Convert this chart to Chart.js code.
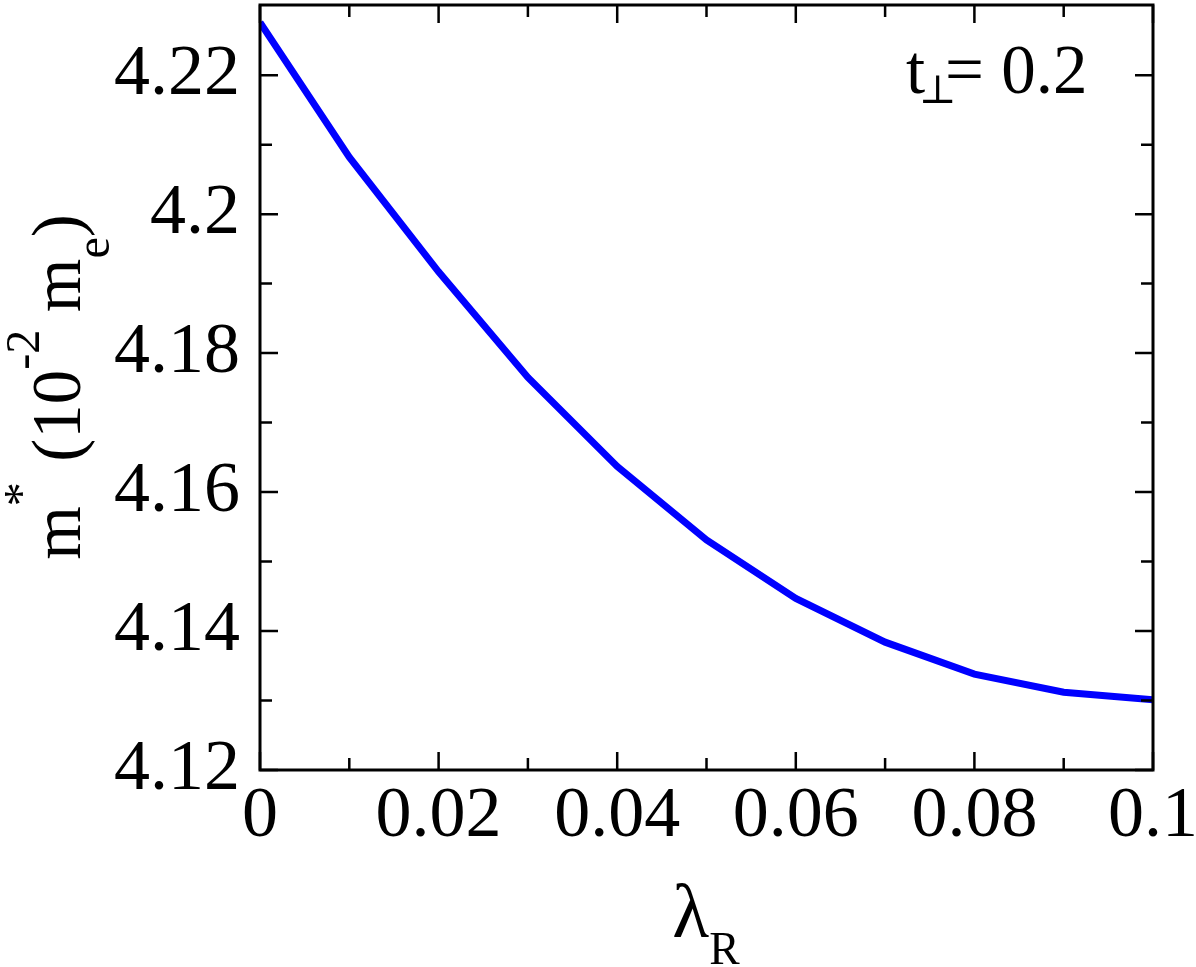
<!DOCTYPE html>
<html>
<head>
<meta charset="utf-8">
<script src="https://cdn.jsdelivr.net/npm/chart.js@4.4.1/dist/chart.umd.min.js"></script>
<style>
html,body{margin:0;padding:0;background:#fff;}
#wrap{width:1196px;height:967px;position:relative;}
</style>
</head>
<body>
<div id="wrap"><canvas id="c" width="1196" height="967"></canvas></div>
<script>
const lambdaR = [0, 0.01, 0.02, 0.03, 0.04, 0.05, 0.06, 0.07, 0.08, 0.09, 0.1];
const massEff = [4.2276, 4.2082, 4.1917, 4.1765, 4.1637, 4.1531, 4.1447, 4.1384, 4.1338, 4.1312, 4.1301];
const xTickValues = [0, 0.02, 0.04, 0.06, 0.08, 0.1];
const xTickLabels = ["0", "0.02", "0.04", "0.06", "0.08", "0.1"];
const xMinorValues = [0.01, 0.03, 0.05, 0.07, 0.09];
const yTickValues = [4.12, 4.14, 4.16, 4.18, 4.20, 4.22];
const yTickLabels = ["4.12", "4.14", "4.16", "4.18", "4.2", "4.22"];
const yMinorValues = [4.13, 4.15, 4.17, 4.19, 4.21, 4.23];
const xRange = [0, 0.1];
const yRange = [4.12, 4.2301];

const FONT = "'Liberation Serif', 'DejaVu Serif', serif";
const TICK_SIZE = 72;
const TITLE_SIZE = 69;

function segFont(s, size) { return (s.k === 'n' ? size : size * (s.r || 0.7)); }
function richWidth(ctx, segs, size) {
  let w = 0;
  for (const s of segs) {
    ctx.font = segFont(s, size) + "px " + FONT;
    w += ctx.measureText(s.t).width + (s.gap || 0);
  }
  return w;
}
function drawRich(ctx, segs, size, x, y) {
  for (const s of segs) {
    ctx.font = segFont(s, size) + "px " + FONT;
    let dy = 0;
    if (s.k === 'sup') dy = -size * (s.d || 0.6);
    if (s.k === 'sub') dy = size * (s.d || 0.4);
    ctx.fillText(s.t, x, y + dy);
    x += ctx.measureText(s.t).width + (s.gap || 0);
  }
}

const decor = {
  id: 'decor',
  afterDraw(chart) {
    const ctx = chart.ctx;
    const a = chart.chartArea;
    const xs = chart.scales.x, ys = chart.scales.y;
    ctx.save();
    ctx.strokeStyle = '#000';
    ctx.lineWidth = 2.5;
    ctx.beginPath();
    const MAJ = 18, MIN = 12;
    for (const v of xTickValues) {
      const p = xs.getPixelForValue(v);
      ctx.moveTo(p, a.bottom); ctx.lineTo(p, a.bottom - MAJ);
      ctx.moveTo(p, a.top); ctx.lineTo(p, a.top + MAJ);
    }
    for (const v of xMinorValues) {
      const p = xs.getPixelForValue(v);
      ctx.moveTo(p, a.bottom); ctx.lineTo(p, a.bottom - MIN);
      ctx.moveTo(p, a.top); ctx.lineTo(p, a.top + MIN);
    }
    for (const v of yTickValues) {
      const p = ys.getPixelForValue(v);
      ctx.moveTo(a.left, p); ctx.lineTo(a.left + MAJ, p);
      ctx.moveTo(a.right, p); ctx.lineTo(a.right - MAJ, p);
    }
    for (const v of yMinorValues) {
      const p = ys.getPixelForValue(v);
      if (p < a.top + 1) continue;
      ctx.moveTo(a.left, p); ctx.lineTo(a.left + MIN, p);
      ctx.moveTo(a.right, p); ctx.lineTo(a.right - MIN, p);
    }
    ctx.stroke();
    ctx.lineWidth = 3;
    ctx.strokeRect(a.left, a.top, a.right - a.left, a.bottom - a.top);

    ctx.fillStyle = '#000';
    ctx.textBaseline = 'alphabetic';
    ctx.textAlign = 'left';
    // x title
    const xt = [{t: "\u03BB", k: 'n'}, {t: "R", k: 'sub', r: 0.6, d: 0.36}];
    const xw = richWidth(ctx, xt, 76);
    drawRich(ctx, xt, 76, 706 - xw / 2, 937);
    // y title
    const yt = [{t: "m", k: 'n'}, {t: "*", k: 'sup', gap: 3, d: 0.62}, {t: " (10", k: 'n'}, {t: "-2", k: 'sup', d: 0.6}, {t: " m", k: 'n'}, {t: "e", k: 'sub', d: 0.42}, {t: ")", k: 'n'}];
    const yw = richWidth(ctx, yt, TITLE_SIZE);
    ctx.save();
    ctx.translate(80, 387);
    ctx.rotate(-Math.PI / 2);
    drawRich(ctx, yt, TITLE_SIZE, -yw / 2, 0);
    ctx.restore();
    // annotation
    ctx.font = "69px " + FONT;
    ctx.fillText("t", 906, 93);
    ctx.fillText("= 0.2", 945, 93);
    ctx.font = "40px 'DejaVu Serif', serif";
    ctx.fillText("\u22A5", 919, 103);
    ctx.restore();
  }
};

new Chart(document.getElementById('c'), {
  type: 'line',
  data: {
    datasets: [{
      data: lambdaR.map((x, i) => ({x: x, y: massEff[i]})),
      borderColor: '#0000ff',
      borderWidth: 7,
      pointRadius: 0,
      fill: false,
      tension: 0
    }]
  },
  options: {
    responsive: false,
    animation: false,
    devicePixelRatio: 1,
    layout: {padding: {top: 5, right: 43, left: 0, bottom: 0}},
    plugins: {legend: {display: false}, tooltip: {enabled: false}},
    scales: {
      x: {
        type: 'linear',
        min: xRange[0], max: xRange[1],
        afterBuildTicks: s => { s.ticks = xTickValues.map(v => ({value: v})); },
        afterFit: s => { s.height = 197; s.paddingLeft = 0; s.paddingRight = 0; },
        grid: {display: false, drawTicks: false},
        border: {display: false},
        ticks: {
          padding: 4,
          color: '#000',
          maxRotation: 0,
          autoSkip: false,
          font: {family: FONT, size: TICK_SIZE},
          callback: (v) => { const i = xTickValues.findIndex(t => Math.abs(t - v) < 1e-9); return i >= 0 ? xTickLabels[i] : ''; }
        }
      },
      y: {
        type: 'linear',
        min: yRange[0], max: yRange[1],
        afterBuildTicks: s => { s.ticks = yTickValues.map(v => ({value: v})); },
        afterFit: s => { s.width = 260; s.paddingTop = 0; s.paddingBottom = 0; },
        grid: {display: false, drawTicks: false},
        border: {display: false},
        ticks: {
          padding: 20,
          color: '#000',
          autoSkip: false,
          font: {family: FONT, size: TICK_SIZE},
          callback: (v) => { const i = yTickValues.findIndex(t => Math.abs(t - v) < 1e-9); return i >= 0 ? yTickLabels[i] : ''; }
        }
      }
    }
  },
  plugins: [decor]
});
</script>
</body>
</html>
